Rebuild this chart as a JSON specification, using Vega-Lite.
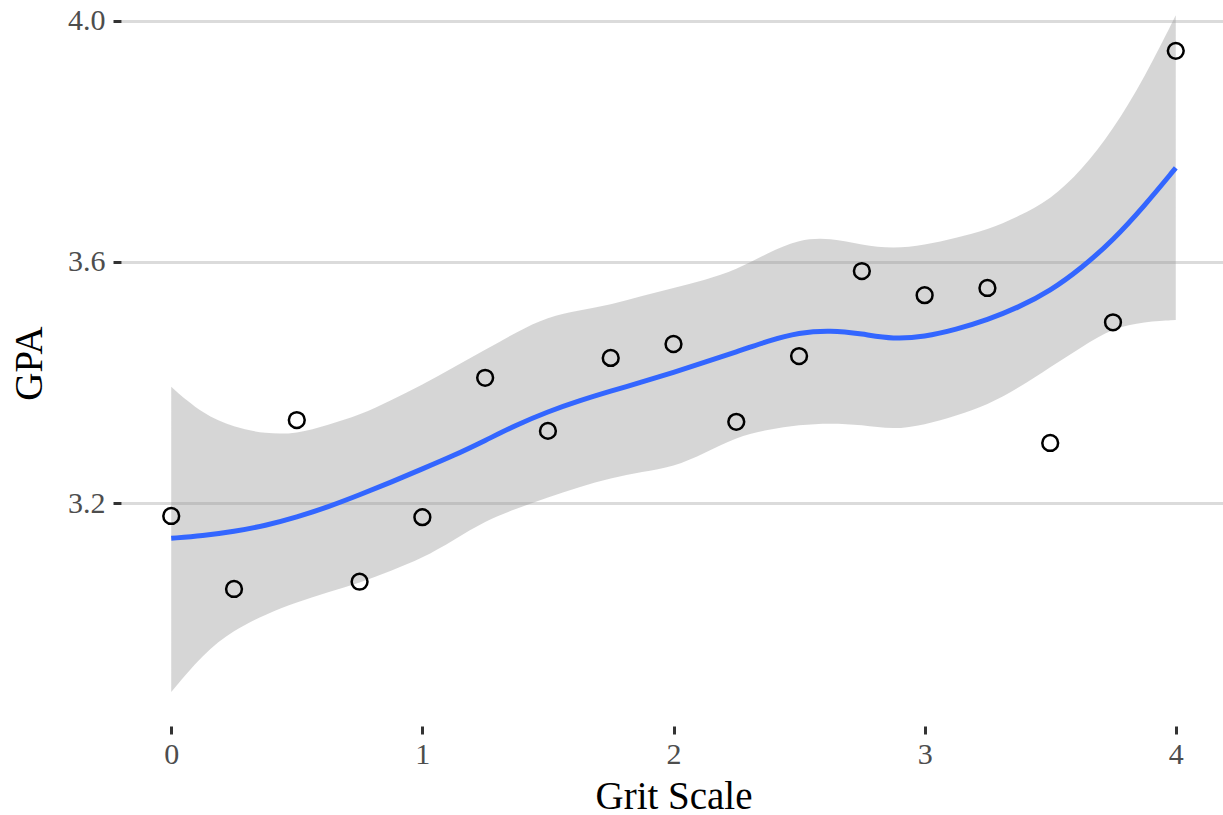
{
  "$schema": "https://vega.github.io/schema/vega-lite/v6.json",
  "autosize": {"type": "none"},
  "width": 1105,
  "height": 726,
  "padding": {"left": 121, "top": 0, "right": 0, "bottom": 89},
  "background": "white",
  "config": {
    "view": {"stroke": null},
    "font": "Liberation Serif",
    "axis": {
      "labelFont": "Liberation Serif",
      "titleFont": "Liberation Serif",
      "labelFontSize": 30,
      "titleFontSize": 39,
      "titleFontWeight": "normal",
      "labelColor": "#4D4D4D",
      "titleColor": "#000000",
      "domain": false,
      "tickColor": "#333333",
      "tickWidth": 3,
      "tickSize": 8,
      "gridColor": "#DBDBDB",
      "gridWidth": 3
    }
  },
  "datasets": {
    "points": [
      {"grit": 0, "gpa": 3.179},
      {"grit": 0.25, "gpa": 3.058},
      {"grit": 0.5, "gpa": 3.338},
      {"grit": 0.75, "gpa": 3.07},
      {"grit": 1.0, "gpa": 3.177},
      {"grit": 1.25, "gpa": 3.408},
      {"grit": 1.5, "gpa": 3.32},
      {"grit": 1.75, "gpa": 3.441},
      {"grit": 2.0, "gpa": 3.464},
      {"grit": 2.25, "gpa": 3.335},
      {"grit": 2.5, "gpa": 3.444},
      {"grit": 2.75, "gpa": 3.585},
      {"grit": 3.0, "gpa": 3.545},
      {"grit": 3.25, "gpa": 3.557},
      {"grit": 3.5, "gpa": 3.3},
      {"grit": 3.75, "gpa": 3.5},
      {"grit": 4.0, "gpa": 3.95}
    ],
    "smooth": [
      {"grit": 0, "lower": 2.887, "fit": 3.142, "upper": 3.393},
      {"grit": 0.125, "lower": 2.95, "fit": 3.146, "upper": 3.348},
      {"grit": 0.25, "lower": 2.99, "fit": 3.153, "upper": 3.326},
      {"grit": 0.375, "lower": 3.016, "fit": 3.163, "upper": 3.315},
      {"grit": 0.5, "lower": 3.036, "fit": 3.177, "upper": 3.315},
      {"grit": 0.625, "lower": 3.053, "fit": 3.194, "upper": 3.33},
      {"grit": 0.75, "lower": 3.068, "fit": 3.214, "upper": 3.346},
      {"grit": 0.875, "lower": 3.088, "fit": 3.235, "upper": 3.371},
      {"grit": 1.0, "lower": 3.109, "fit": 3.257, "upper": 3.396},
      {"grit": 1.125, "lower": 3.139, "fit": 3.279, "upper": 3.426},
      {"grit": 1.25, "lower": 3.171, "fit": 3.304, "upper": 3.454},
      {"grit": 1.375, "lower": 3.191, "fit": 3.33, "upper": 3.484},
      {"grit": 1.5, "lower": 3.21, "fit": 3.352, "upper": 3.509},
      {"grit": 1.625, "lower": 3.227, "fit": 3.37, "upper": 3.52},
      {"grit": 1.75, "lower": 3.242, "fit": 3.386, "upper": 3.529},
      {"grit": 1.875, "lower": 3.252, "fit": 3.401, "upper": 3.544},
      {"grit": 2.0, "lower": 3.26, "fit": 3.417, "upper": 3.557},
      {"grit": 2.125, "lower": 3.283, "fit": 3.434, "upper": 3.57},
      {"grit": 2.25, "lower": 3.31, "fit": 3.451, "upper": 3.587},
      {"grit": 2.375, "lower": 3.322, "fit": 3.469, "upper": 3.615},
      {"grit": 2.5, "lower": 3.33, "fit": 3.483, "upper": 3.638},
      {"grit": 2.625, "lower": 3.333, "fit": 3.487, "upper": 3.64},
      {"grit": 2.75, "lower": 3.33, "fit": 3.481, "upper": 3.628},
      {"grit": 2.875, "lower": 3.322, "fit": 3.472, "upper": 3.622},
      {"grit": 3.0, "lower": 3.33, "fit": 3.476, "upper": 3.628},
      {"grit": 3.125, "lower": 3.345, "fit": 3.488, "upper": 3.64},
      {"grit": 3.25, "lower": 3.363, "fit": 3.504, "upper": 3.653},
      {"grit": 3.375, "lower": 3.391, "fit": 3.525, "upper": 3.676},
      {"grit": 3.5, "lower": 3.426, "fit": 3.552, "upper": 3.703},
      {"grit": 3.625, "lower": 3.459, "fit": 3.59, "upper": 3.752},
      {"grit": 3.75, "lower": 3.491, "fit": 3.636, "upper": 3.819},
      {"grit": 3.875, "lower": 3.501, "fit": 3.693, "upper": 3.905},
      {"grit": 4.0, "lower": 3.504, "fit": 3.756, "upper": 4.009}
    ]
  },
  "layer": [
    {
      "data": {"name": "smooth"},
      "mark": {"type": "area", "fill": "#999999", "opacity": 0.4, "interpolate": "basis"},
      "encoding": {
        "x": {
          "field": "grit", "type": "quantitative",
          "scale": {"domain": [-0.2, 4.2], "nice": false, "zero": false},
          "axis": {"values": [0, 1, 2, 3, 4], "format": "d", "grid": false, "title": "Grit Scale", "labelPadding": 5, "titlePadding": 8}
        },
        "y": {
          "field": "lower", "type": "quantitative",
          "scale": {"domain": [2.8308, 4.0343], "nice": false, "zero": false},
          "axis": {"values": [3.2, 3.6, 4.0], "format": ".1f", "grid": true, "title": "GPA", "labelPadding": 8, "titlePadding": 18}
        },
        "y2": {"field": "upper"}
      }
    },
    {
      "data": {"name": "smooth"},
      "mark": {"type": "line", "color": "#3366FF", "strokeWidth": 5, "interpolate": "basis"},
      "encoding": {
        "x": {"field": "grit", "type": "quantitative"},
        "y": {"field": "fit", "type": "quantitative"}
      }
    },
    {
      "data": {"name": "points"},
      "mark": {"type": "point", "shape": "circle", "filled": false, "stroke": "black", "strokeWidth": 2.5, "size": 250, "opacity": 1},
      "encoding": {
        "x": {"field": "grit", "type": "quantitative"},
        "y": {"field": "gpa", "type": "quantitative"}
      }
    }
  ]
}
